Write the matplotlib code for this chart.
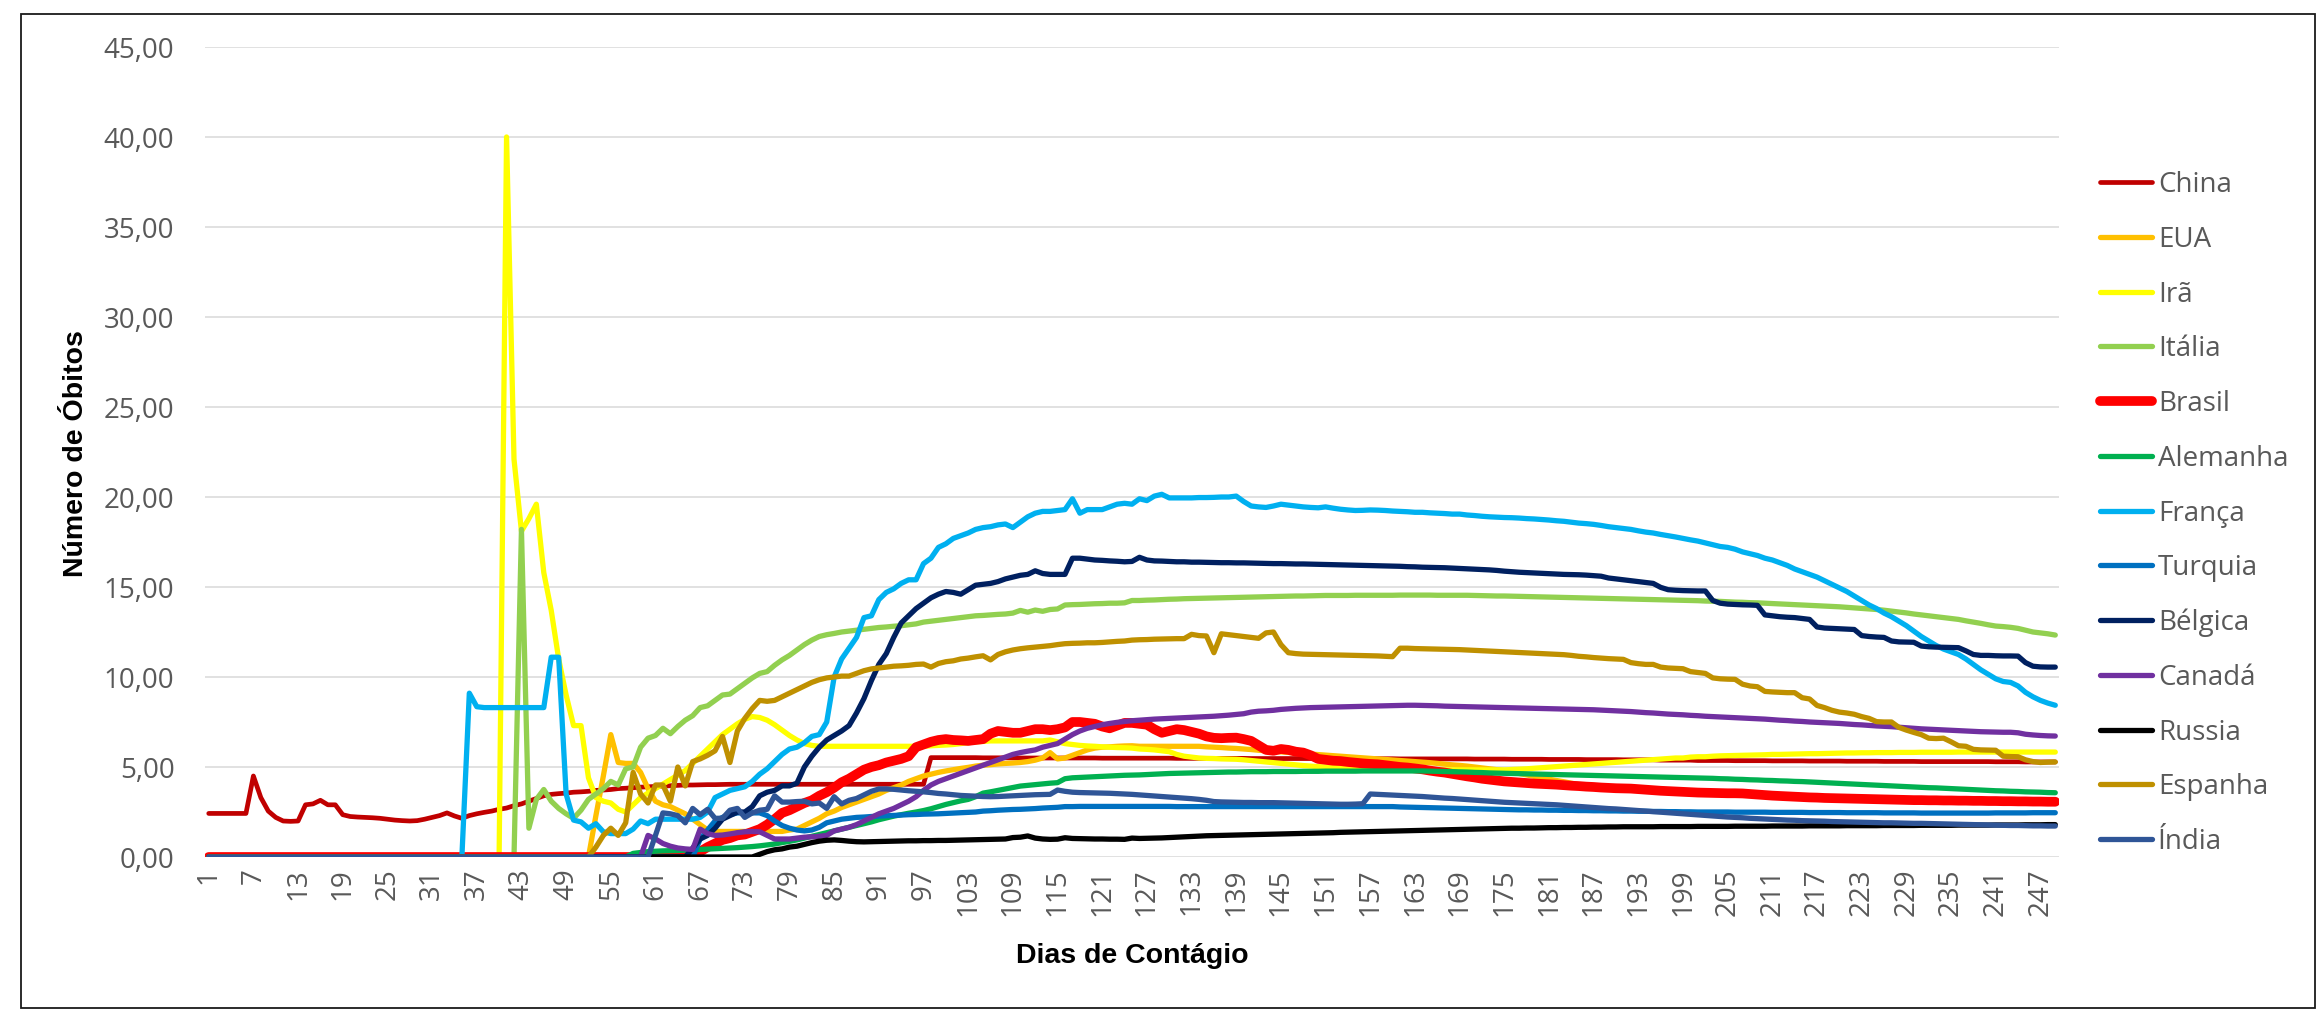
import numpy as np
import matplotlib
matplotlib.use('Agg')
import matplotlib.pyplot as plt
from matplotlib.lines import Line2D
from matplotlib.patches import Rectangle
from matplotlib.ticker import FuncFormatter, MultipleLocator

plt.rcParams['font.family'] = ['Open Sans', 'DejaVu Sans']

# --> Dias de contagio 1..249
days = list(range(1, 250))

china = ([2.42] * 6 + [4.5, 3.3, 2.55, 2.2]
         + [2.0, 1.98, 2.0, 2.9, 2.95, 3.15, 2.9, 2.9, 2.35, 2.25]
         + [2.22, 2.2, 2.18, 2.15, 2.1, 2.05, 2.02, 2.0, 2.02, 2.1]
         + [2.2, 2.3, 2.45, 2.28, 2.15, 2.3, 2.4, 2.48, 2.55, 2.65]
         + [2.72, 2.85, 2.95, 3.1, 3.25, 3.4, 3.48, 3.52, 3.55, 3.6]
         + [3.62, 3.65, 3.7, 3.72, 3.75, 3.8, 3.82, 3.85, 3.88, 3.9]
         + [3.92, 3.94, 3.96, 3.98, 4.0, 4.0, 4.01, 4.02, 4.02, 4.03]
         + [4.04] * 27
         + [5.52] * 7 + [5.51] * 4 + [5.5] * 12
         + [5.49] * 10 + [5.48] * 10 + [5.47] * 10 + [5.46] * 10 + [5.45] * 10
         + [5.44] * 5 + [5.43] * 5 + [5.42] * 5 + [5.41] * 5 + [5.4] * 5 + [5.38] * 5
         + [5.36] * 5 + [5.35] * 5 + [5.34] * 5 + [5.33] * 5 + [5.32] * 5 + [5.31] * 5
         + [5.3] * 10 + [5.29] * 4 + [5.28] * 5)

eua = ([0.0] * 52
       + [2.3, 4.5, 6.8, 5.25, 5.2, 5.2, 4.7, 3.8]
       + [3.1, 2.9, 2.8, 2.6, 2.4, 2.1, 1.8, 1.5, 1.42, 1.42]
       + [1.42] * 8 + [1.5, 1.55]
       + [1.75, 1.95, 2.15, 2.4, 2.55, 2.75, 2.9, 3.05, 3.2, 3.35]
       + [3.5, 3.7, 3.85, 4.0, 4.2, 4.35, 4.5, 4.6, 4.7, 4.78]
       + [4.85, 4.92, 4.98, 5.05, 5.1, 5.13, 5.17, 5.2, 5.22, 5.25]
       + [5.3, 5.38, 5.5, 5.8, 5.45, 5.5, 5.65, 5.8, 5.95, 6.05]
       + [6.1, 6.12, 6.15, 6.17, 6.18] + [6.15] * 9
       + [6.12, 6.1, 6.08, 6.05, 6.03, 6.0, 5.97, 5.93, 5.9, 5.87]
       + [5.84, 5.81, 5.78, 5.75, 5.72, 5.69, 5.66, 5.63, 5.6, 5.57]
       + [5.54, 5.51, 5.48, 5.45, 5.42, 5.39, 5.36, 5.33, 5.3, 5.27]
       + [5.24, 5.2, 5.16, 5.12, 5.09]
       + [5.05, 5.0, 4.95, 4.9, 4.85, 4.8, 4.72, 4.64, 4.56, 4.48]
       + [4.4, 4.32, 4.25, 4.18, 4.1, 4.02, 3.96, 3.92, 3.88, 3.85]
       + [3.82, 3.8, 3.78, 3.76, 3.74, 3.71, 3.68, 3.66, 3.64, 3.62]
       + [3.6, 3.58, 3.57, 3.56, 3.55, 3.54, 3.53, 3.52, 3.5, 3.47]
       + [3.44, 3.41, 3.39, 3.37, 3.35, 3.33, 3.31, 3.3, 3.28, 3.27]
       + [3.26, 3.25, 3.24, 3.23, 3.22, 3.21, 3.2, 3.19, 3.18, 3.17]
       + [3.16, 3.15, 3.15, 3.14, 3.14, 3.13, 3.13, 3.12, 3.12, 3.11]
       + [3.11, 3.1, 3.1, 3.09, 3.09, 3.08, 3.08, 3.07, 3.07, 3.06])

ira = ([0.0] * 40
       + [40.0, 22.1, 18.1, 18.8, 19.6, 15.8, 13.7, 11.0, 9.0, 7.3]
       + [7.3, 4.4, 3.3, 3.1, 3.0, 2.65, 2.5, 2.9, 3.3, 3.55]
       + [3.8, 4.05, 4.3, 4.55, 4.8, 5.2, 5.6, 6.0, 6.4, 6.8]
       + [7.1, 7.4, 7.65, 7.8, 7.75, 7.6, 7.35, 7.05, 6.75, 6.5]
       + [6.3, 6.2, 6.15] + [6.15] * 14 + [6.18, 6.2, 6.22]
       + [6.25, 6.3, 6.35, 6.4, 6.42] + [6.45] * 8
       + [6.5, 6.4, 6.3, 6.25, 6.2, 6.17, 6.15]
       + [6.12, 6.1, 6.08, 6.07, 6.05, 6.0, 5.98, 5.95, 5.9, 5.85]
       + [5.7, 5.6, 5.55, 5.5, 5.48, 5.47, 5.45, 5.44, 5.43, 5.4]
       + [5.36, 5.32, 5.28, 5.24, 5.2, 5.16, 5.12, 5.08, 5.05, 5.02]
       + [5.0, 4.98, 4.96, 4.94, 4.92, 4.9, 4.89, 4.87, 4.86, 4.85]
       + [4.84] * 15
       + [4.86, 4.88, 4.9, 4.93, 4.96]
       + [4.99, 5.02, 5.05, 5.08, 5.11, 5.14, 5.17, 5.2, 5.23, 5.26]
       + [5.29, 5.32, 5.35, 5.38, 5.41, 5.44, 5.47, 5.5, 5.5, 5.55]
       + [5.57, 5.57, 5.6, 5.62, 5.63, 5.64, 5.65, 5.66, 5.67, 5.68]
       + [5.7, 5.7, 5.71, 5.72, 5.73, 5.74, 5.74, 5.75, 5.76, 5.77]
       + [5.78, 5.78, 5.79, 5.79, 5.8, 5.8, 5.8, 5.81, 5.81, 5.81]
       + [5.82] * 5 + [5.83] * 14)

italia = ([0.0] * 42
          + [18.2, 1.6, 3.2, 3.75, 3.1, 2.7, 2.4, 2.15]
          + [2.6, 3.2, 3.5, 3.8, 4.2, 4.0, 4.9, 5.0, 6.1, 6.6]
          + [6.75, 7.15, 6.85, 7.25, 7.6, 7.85, 8.3, 8.4, 8.7, 9.0]
          + [9.05, 9.35, 9.65, 9.95, 10.2, 10.3, 10.65, 10.95, 11.2, 11.5]
          + [11.8, 12.05, 12.25, 12.35, 12.42, 12.5, 12.55, 12.6, 12.65, 12.7]
          + [12.75, 12.78, 12.82, 12.85, 12.9, 12.95, 13.05, 13.1, 13.15, 13.2]
          + [13.25, 13.3, 13.35, 13.4, 13.42, 13.45, 13.48, 13.5, 13.55, 13.7]
          + [13.6, 13.72, 13.65, 13.75, 13.78, 14.0, 14.02, 14.03, 14.05, 14.07]
          + [14.08, 14.1, 14.1, 14.12, 14.25, 14.25, 14.27, 14.28, 14.3, 14.32]
          + [14.33, 14.35, 14.36, 14.37, 14.38, 14.39, 14.4, 14.41, 14.42, 14.43]
          + [14.44, 14.45, 14.46, 14.47, 14.48, 14.49, 14.5, 14.5, 14.51, 14.52]
          + [14.53] * 4 + [14.54] * 6
          + [14.55] * 5 + [14.54] * 5
          + [14.53, 14.52, 14.51, 14.5, 14.5, 14.49, 14.48, 14.47, 14.46, 14.45]
          + [14.44, 14.43, 14.42, 14.41, 14.4, 14.39, 14.38, 14.37, 14.36, 14.35]
          + [14.34, 14.33, 14.32, 14.31, 14.3, 14.29, 14.28, 14.27, 14.26, 14.25]
          + [14.24, 14.22, 14.21, 14.2, 14.18, 14.16, 14.15, 14.13, 14.12, 14.1]
          + [14.08, 14.06, 14.04, 14.02, 14.0, 13.98, 13.96, 13.94, 13.92, 13.9]
          + [13.87, 13.84, 13.81, 13.78, 13.75, 13.71, 13.66, 13.61, 13.56, 13.5]
          + [13.45, 13.4, 13.35, 13.3, 13.25, 13.2, 13.12, 13.05, 12.98, 12.9]
          + [12.83, 12.8, 12.76, 12.7, 12.6, 12.5, 12.45, 12.4, 12.33])

brasil = ([0.0] * 66
          + [0.3, 0.55, 0.75, 0.95]
          + [1.05, 1.2, 1.25, 1.4, 1.55, 1.8, 2.1, 2.45, 2.6, 2.8]
          + [3.0, 3.15, 3.4, 3.6, 3.85, 4.15, 4.35, 4.6, 4.85, 5.0]
          + [5.1, 5.25, 5.35, 5.45, 5.6, 6.1, 6.25, 6.4, 6.5, 6.55]
          + [6.5, 6.48, 6.45, 6.5, 6.55, 6.85, 7.0, 6.95, 6.9, 6.9]
          + [7.0, 7.1, 7.1, 7.05, 7.1, 7.2, 7.5, 7.5, 7.45, 7.4]
          + [7.25, 7.15, 7.3, 7.45, 7.45, 7.4, 7.35, 7.1, 6.9, 7.0]
          + [7.1, 7.05, 6.95, 6.85, 6.7, 6.62, 6.6, 6.62, 6.63, 6.55]
          + [6.45, 6.2, 5.95, 5.9, 6.0, 5.95, 5.85, 5.8, 5.65, 5.45]
          + [5.4, 5.35, 5.33, 5.28, 5.24, 5.2, 5.17, 5.15, 5.1, 5.05]
          + [5.0, 4.97, 4.92, 4.87, 4.8, 4.74, 4.69, 4.62, 4.55, 4.48]
          + [4.42, 4.35, 4.3, 4.25, 4.2, 4.17, 4.14, 4.11, 4.08, 4.06]
          + [4.04, 4.02, 3.99, 3.96, 3.94, 3.91, 3.89, 3.86, 3.84, 3.82]
          + [3.81, 3.8, 3.77, 3.74, 3.71, 3.68, 3.66, 3.64, 3.62, 3.6]
          + [3.58, 3.57, 3.56, 3.55, 3.54, 3.54, 3.53, 3.5, 3.47, 3.44]
          + [3.41, 3.39, 3.37, 3.35, 3.33, 3.31, 3.3, 3.28, 3.27, 3.26]
          + [3.25, 3.24, 3.23, 3.22, 3.21, 3.2, 3.19, 3.18, 3.17, 3.16]
          + [3.16, 3.15, 3.15, 3.14, 3.14, 3.13, 3.13, 3.12, 3.12, 3.11]
          + [3.11, 3.1, 3.1, 3.09, 3.09, 3.08, 3.08, 3.07, 3.07])

alemanha = ([0.0] * 57
            + [0.2, 0.25, 0.3]
            + [0.32, 0.34, 0.35, 0.36, 0.38, 0.4, 0.42, 0.44, 0.46, 0.48]
            + [0.5, 0.52, 0.55, 0.58, 0.62, 0.67, 0.72, 0.8, 0.87, 0.95]
            + [1.05, 1.15, 1.25, 1.35, 1.45, 1.55, 1.65, 1.75, 1.85, 1.95]
            + [2.07, 2.17, 2.27, 2.35, 2.43, 2.5, 2.58, 2.68, 2.8, 2.92]
            + [3.02, 3.12, 3.2, 3.35, 3.55, 3.62, 3.7, 3.78, 3.86, 3.94]
            + [3.98, 4.02, 4.06, 4.1, 4.13, 4.35, 4.4, 4.42, 4.44, 4.46]
            + [4.48, 4.5, 4.52, 4.54, 4.55, 4.56, 4.58, 4.6, 4.62, 4.64]
            + [4.65, 4.66, 4.67, 4.68, 4.69, 4.7, 4.71, 4.72, 4.72, 4.73]
            + [4.74] * 3 + [4.75] * 4 + [4.76] * 3
            + [4.77] * 5 + [4.78] * 5
            + [4.78] * 4 + [4.77, 4.76, 4.75, 4.74, 4.73, 4.72]
            + [4.7, 4.69, 4.67, 4.66, 4.65, 4.64, 4.63, 4.62, 4.61, 4.6]
            + [4.59, 4.58, 4.57, 4.56, 4.55, 4.54, 4.53, 4.52, 4.51, 4.5]
            + [4.49, 4.48, 4.47, 4.46, 4.45, 4.44, 4.43, 4.42, 4.41, 4.4]
            + [4.39, 4.38, 4.37, 4.35, 4.34, 4.32, 4.31, 4.29, 4.28, 4.26]
            + [4.25, 4.23, 4.22, 4.2, 4.19, 4.17, 4.15, 4.13, 4.11, 4.09]
            + [4.07, 4.05, 4.03, 4.01, 3.99, 3.97, 3.95, 3.93, 3.91, 3.89]
            + [3.87, 3.85, 3.84, 3.82, 3.8, 3.78, 3.76, 3.74, 3.72, 3.7]
            + [3.68, 3.67, 3.65, 3.64, 3.62, 3.61, 3.6, 3.58, 3.57])

franca = ([0.0] * 35
          + [9.1, 8.35, 8.3, 8.3, 8.3]
          + [8.3] * 6 + [11.1, 11.1, 3.5, 2.05]
          + [1.95, 1.6, 1.85, 1.4, 1.3, 1.3, 1.3, 1.55, 2.0, 1.85]
          + [2.1] * 6 + [2.2, 2.5, 3.3, 3.5]
          + [3.7, 3.8, 3.9, 4.2, 4.6, 4.9, 5.3, 5.7, 6.0, 6.1]
          + [6.35, 6.7, 6.8, 7.5, 10.0, 11.0, 11.6, 12.2, 13.3, 13.4]
          + [14.3, 14.7, 14.9, 15.2, 15.4, 15.4, 16.3, 16.6, 17.2, 17.4]
          + [17.7, 17.85, 18.0, 18.2, 18.3, 18.35, 18.45, 18.5, 18.3, 18.6]
          + [18.9, 19.1, 19.2, 19.2, 19.25, 19.3, 19.9, 19.1, 19.3, 19.3]
          + [19.3, 19.45, 19.6, 19.65, 19.6, 19.9, 19.8, 20.05, 20.15, 19.95]
          + [19.95, 19.95, 19.95, 19.97, 19.97, 19.98, 20.0, 20.0, 20.05, 19.75]
          + [19.5, 19.45, 19.42, 19.5, 19.6, 19.55, 19.5, 19.45, 19.42, 19.4]
          + [19.45, 19.38, 19.32, 19.28, 19.25, 19.26, 19.28, 19.27, 19.25, 19.22]
          + [19.2, 19.18, 19.15, 19.15, 19.12, 19.1, 19.08, 19.05, 19.05, 19.0]
          + [18.97, 18.93, 18.9, 18.88, 18.86, 18.85, 18.83, 18.8, 18.78, 18.75]
          + [18.72, 18.68, 18.65, 18.6, 18.55, 18.52, 18.48, 18.42, 18.35, 18.3]
          + [18.25, 18.2, 18.12, 18.05, 18.0, 17.92, 17.85, 17.78, 17.7, 17.62]
          + [17.55, 17.45, 17.35, 17.25, 17.2, 17.1, 16.95, 16.85, 16.75, 16.6]
          + [16.5, 16.35, 16.2, 16.0, 15.85, 15.7, 15.55, 15.35, 15.15, 14.95]
          + [14.75, 14.5, 14.25, 14.0, 13.8, 13.55, 13.35, 13.1, 12.85, 12.55]
          + [12.25, 12.0, 11.75, 11.55, 11.4, 11.25, 11.0, 10.7, 10.4, 10.15]
          + [9.9, 9.75, 9.7, 9.5, 9.15, 8.9, 8.7, 8.55, 8.43])

turquia = ([0.0] * 66
           + [1.0, 1.5, 2.0, 2.2]
           + [2.35, 2.45, 2.45, 2.45, 2.45, 2.3, 2.0, 1.75, 1.6, 1.5]
           + [1.45, 1.5, 1.65, 1.9, 2.0, 2.1, 2.15, 2.2, 2.22, 2.25]
           + [2.27, 2.29, 2.31, 2.33, 2.35, 2.36, 2.38, 2.39, 2.4, 2.42]
           + [2.44, 2.46, 2.48, 2.5, 2.55, 2.57, 2.6, 2.62, 2.64, 2.65]
           + [2.67, 2.69, 2.72, 2.74, 2.76, 2.8, 2.8, 2.81, 2.81, 2.81]
           + [2.81] * 10
           + [2.8] * 30
           + [2.78, 2.77, 2.76, 2.75, 2.74, 2.73, 2.72, 2.71, 2.7, 2.69]
           + [2.68, 2.67, 2.66, 2.65, 2.64, 2.63, 2.62, 2.62, 2.61, 2.61]
           + [2.6, 2.6, 2.59, 2.59, 2.58, 2.58, 2.57, 2.57, 2.56, 2.56]
           + [2.55, 2.55, 2.54, 2.54, 2.53, 2.53, 2.52, 2.52, 2.51, 2.51]
           + [2.5] * 5 + [2.49] * 5 + [2.48] * 5 + [2.47] * 5 + [2.46] * 5 + [2.45] * 5
           + [2.44] * 10 + [2.45] * 5 + [2.46] * 4)

belgica = ([0.0] * 65
           + [0.5, 1.0, 1.2, 1.6, 2.1]
           + [2.3, 2.5, 2.5, 2.8, 3.4, 3.6, 3.7, 3.95, 3.95, 4.1]
           + [5.0, 5.6, 6.1, 6.5, 6.75, 7.0, 7.3, 8.0, 8.8, 9.8]
           + [10.7, 11.3, 12.2, 13.0, 13.4, 13.8, 14.1, 14.4, 14.6, 14.75]
           + [14.7, 14.6, 14.85, 15.1, 15.15, 15.2, 15.3, 15.45, 15.55, 15.65]
           + [15.7, 15.9, 15.75, 15.7, 15.7, 15.7, 16.6, 16.6, 16.55, 16.5]
           + [16.48, 16.45, 16.43, 16.4, 16.42, 16.65, 16.5, 16.45, 16.44, 16.42]
           + [16.4, 16.4, 16.38, 16.38, 16.37, 16.36, 16.35, 16.35, 16.34, 16.34]
           + [16.33, 16.32, 16.31, 16.3, 16.3, 16.29, 16.28, 16.28, 16.27, 16.26]
           + [16.25, 16.24, 16.23, 16.22, 16.21, 16.2, 16.19, 16.18, 16.17, 16.16]
           + [16.15, 16.13, 16.12, 16.1, 16.09, 16.08, 16.07, 16.05, 16.03, 16.01]
           + [15.99, 15.97, 15.95, 15.92, 15.88, 15.85, 15.82, 15.8, 15.78, 15.76]
           + [15.74, 15.72, 15.7, 15.69, 15.68, 15.66, 15.63, 15.6, 15.5, 15.45]
           + [15.4, 15.35, 15.3, 15.25, 15.2, 14.98, 14.85, 14.82, 14.8, 14.79]
           + [14.78, 14.78, 14.25, 14.1, 14.05, 14.03, 14.01, 14.0, 13.98, 13.45]
           + [13.4, 13.35, 13.32, 13.3, 13.25, 13.2, 12.78, 12.72, 12.7, 12.68]
           + [12.66, 12.64, 12.3, 12.25, 12.22, 12.2, 12.0, 11.95, 11.94, 11.93]
           + [11.72, 11.68, 11.66, 11.65, 11.64, 11.63, 11.45, 11.25, 11.2, 11.2]
           + [11.18, 11.17, 11.17, 11.16, 10.8, 10.6, 10.56, 10.55, 10.55])

canada = ([0.0] * 59
          + [1.2]
          + [1.0, 0.75, 0.6, 0.5, 0.45, 0.42, 1.55, 1.3, 1.2, 1.22]
          + [1.28, 1.35, 1.4, 1.42, 1.4, 1.2, 1.0, 1.0, 1.0, 1.05]
          + [1.1, 1.12, 1.15, 1.2, 1.45, 1.55, 1.65, 1.8, 2.0, 2.2]
          + [2.4, 2.55, 2.7, 2.9, 3.1, 3.35, 3.7, 4.0, 4.2, 4.35]
          + [4.5, 4.65, 4.8, 4.95, 5.1, 5.25, 5.4, 5.55, 5.7, 5.8]
          + [5.88, 5.95, 6.1, 6.2, 6.3, 6.55, 6.8, 7.0, 7.15, 7.25]
          + [7.35, 7.42, 7.48, 7.53, 7.57, 7.6, 7.63, 7.66, 7.68, 7.7]
          + [7.72, 7.74, 7.76, 7.78, 7.8, 7.82, 7.85, 7.88, 7.92, 7.96]
          + [8.05, 8.1, 8.12, 8.15, 8.2, 8.23, 8.26, 8.28, 8.3, 8.31]
          + [8.32, 8.33, 8.34, 8.35, 8.36, 8.37, 8.38, 8.39, 8.4, 8.41]
          + [8.42, 8.43, 8.43, 8.42, 8.41, 8.4, 8.38, 8.37, 8.36, 8.35]
          + [8.34, 8.33, 8.32, 8.31, 8.3, 8.29, 8.28, 8.27, 8.26, 8.25]
          + [8.24, 8.23, 8.22, 8.21, 8.2, 8.19, 8.18, 8.16, 8.14, 8.12]
          + [8.1, 8.08, 8.05, 8.02, 8.0, 7.97, 7.94, 7.92, 7.9, 7.87]
          + [7.85, 7.82, 7.8, 7.78, 7.76, 7.74, 7.72, 7.7, 7.68, 7.66]
          + [7.63, 7.6, 7.58, 7.55, 7.53, 7.5, 7.48, 7.46, 7.44, 7.42]
          + [7.39, 7.36, 7.34, 7.31, 7.28, 7.26, 7.24, 7.21, 7.18, 7.15]
          + [7.12, 7.1, 7.08, 7.06, 7.04, 7.02, 7.0, 6.98, 6.96, 6.95]
          + [6.94, 6.93, 6.93, 6.9, 6.82, 6.78, 6.75, 6.73, 6.72])

russia = ([0.0] * 74
          + [0.15, 0.3, 0.4, 0.45, 0.55, 0.6]
          + [0.7, 0.8, 0.88, 0.93, 0.95, 0.92, 0.88, 0.85, 0.84, 0.85]
          + [0.86, 0.87, 0.88, 0.89, 0.9, 0.9, 0.91, 0.91, 0.92, 0.92]
          + [0.93, 0.94, 0.95, 0.96, 0.97, 0.98, 0.99, 1.0, 1.08, 1.1]
          + [1.17, 1.05, 1.0, 0.98, 0.99, 1.07, 1.03, 1.02, 1.01, 1.0]
          + [1.0, 0.99, 0.99, 0.98, 1.05, 1.03, 1.04, 1.05, 1.06, 1.08]
          + [1.1, 1.12, 1.14, 1.16, 1.18, 1.19, 1.2, 1.21, 1.22, 1.23]
          + [1.24, 1.25, 1.26, 1.27, 1.28, 1.29, 1.3, 1.31, 1.32, 1.33]
          + [1.34, 1.35, 1.37, 1.38, 1.39, 1.4, 1.41, 1.42, 1.43, 1.44]
          + [1.45, 1.46, 1.47, 1.48, 1.49, 1.5, 1.51, 1.52, 1.53, 1.54]
          + [1.55, 1.56, 1.57, 1.58, 1.59, 1.6, 1.6, 1.61, 1.61, 1.62]
          + [1.63, 1.63, 1.64, 1.64, 1.65, 1.65, 1.66, 1.66, 1.67, 1.67]
          + [1.68] * 5 + [1.69] * 5 + [1.7] * 5 + [1.71] * 5 + [1.72] * 5 + [1.73] * 5
          + [1.74] * 5 + [1.75] * 5 + [1.76] * 5 + [1.77] * 5
          + [1.78] * 4 + [1.79] * 3 + [1.8] * 2)

espanha = ([0.0] * 52
           + [0.55, 1.2, 1.6, 1.2, 1.9, 4.7, 3.5, 3.0]
           + [4.0, 4.0, 3.1, 5.0, 3.95, 5.3, 5.45, 5.65, 5.9, 6.7]
           + [5.25, 7.0, 7.7, 8.25, 8.7, 8.65, 8.7, 8.9, 9.1, 9.3]
           + [9.5, 9.7, 9.85, 9.95, 10.0, 10.05, 10.05, 10.2, 10.35, 10.45]
           + [10.5, 10.55, 10.6, 10.62, 10.65, 10.7, 10.72, 10.55, 10.75, 10.85]
           + [10.9, 11.0, 11.05, 11.12, 11.18, 10.95, 11.25, 11.4, 11.5, 11.57]
           + [11.62, 11.66, 11.7, 11.74, 11.8, 11.85, 11.87, 11.88, 11.9, 11.9]
           + [11.92, 11.95, 11.98, 12.0, 12.05, 12.07, 12.08, 12.1, 12.11, 12.12]
           + [12.13, 12.13, 12.37, 12.3, 12.28, 11.35, 12.4, 12.35, 12.3, 12.25]
           + [12.2, 12.15, 12.45, 12.5, 11.8, 11.35, 11.3, 11.27, 11.26, 11.25]
           + [11.24, 11.23, 11.22, 11.21, 11.2, 11.19, 11.18, 11.17, 11.15, 11.13]
           + [11.6, 11.6, 11.58, 11.57, 11.56, 11.55, 11.54, 11.53, 11.52, 11.5]
           + [11.48, 11.46, 11.44, 11.42, 11.4, 11.38, 11.36, 11.34, 11.32, 11.3]
           + [11.28, 11.26, 11.24, 11.2, 11.15, 11.12, 11.08, 11.05, 11.02, 11.0]
           + [10.98, 10.8, 10.74, 10.7, 10.7, 10.55, 10.5, 10.48, 10.46, 10.3]
           + [10.25, 10.2, 9.95, 9.9, 9.88, 9.87, 9.6, 9.5, 9.46, 9.2]
           + [9.17, 9.15, 9.13, 9.13, 8.85, 8.78, 8.42, 8.3, 8.15, 8.05]
           + [8.0, 7.93, 7.8, 7.7, 7.52, 7.5, 7.5, 7.2, 7.05, 6.92]
           + [6.8, 6.6, 6.58, 6.6, 6.4, 6.18, 6.15, 5.98, 5.95, 5.94]
           + [5.93, 5.6, 5.58, 5.57, 5.4, 5.3, 5.25, 5.27, 5.28])

india = ([0.0] * 60
         + [1.2, 2.45, 2.4, 2.3, 1.9, 2.7, 2.35, 2.65, 2.15, 2.15]
         + [2.6, 2.7, 2.2, 2.45, 2.6, 2.65, 3.4, 3.05, 3.05, 3.08]
         + [3.1, 2.95, 3.0, 2.7, 3.35, 2.95, 3.15, 3.25, 3.45, 3.65]
         + [3.78, 3.78, 3.76, 3.72, 3.68, 3.65, 3.62, 3.58, 3.53, 3.5]
         + [3.46, 3.42, 3.4, 3.38, 3.36, 3.35, 3.36, 3.38, 3.4, 3.42]
         + [3.44, 3.46, 3.47, 3.48, 3.72, 3.65, 3.6, 3.58, 3.57, 3.56]
         + [3.55, 3.54, 3.52, 3.5, 3.48, 3.45, 3.42, 3.39, 3.36, 3.33]
         + [3.3, 3.27, 3.24, 3.2, 3.15, 3.08, 3.06, 3.05, 3.04, 3.03]
         + [3.03, 3.02, 3.02, 3.02, 3.01, 3.0, 2.99, 2.98, 2.97, 2.96]
         + [2.95, 2.94, 2.93, 2.93, 2.94, 2.96, 3.5, 3.48, 3.46, 3.44]
         + [3.42, 3.4, 3.38, 3.36, 3.33, 3.3, 3.27, 3.25, 3.22, 3.19]
         + [3.16, 3.13, 3.1, 3.07, 3.04, 3.02, 3.0, 2.98, 2.96, 2.94]
         + [2.92, 2.9, 2.87, 2.84, 2.81, 2.78, 2.75, 2.72, 2.69, 2.67]
         + [2.64, 2.61, 2.58, 2.55, 2.52, 2.49, 2.46, 2.43, 2.4, 2.37]
         + [2.34, 2.31, 2.28, 2.25, 2.22, 2.2, 2.18, 2.15, 2.13, 2.11]
         + [2.09, 2.07, 2.05, 2.04, 2.02, 2.01, 2.0, 1.99, 1.97, 1.96]
         + [1.95, 1.94, 1.93, 1.92, 1.91, 1.9, 1.9, 1.89, 1.88, 1.87]
         + [1.87, 1.86, 1.85, 1.84, 1.83, 1.82, 1.81, 1.8, 1.79, 1.78]
         + [1.77, 1.76, 1.75, 1.75, 1.74, 1.73, 1.73, 1.72, 1.72])

names = ['China', 'EUA', 'Irã', 'Itália', 'Brasil', 'Alemanha', 'França',
         'Turquia', 'Bélgica', 'Canadá', 'Russia', 'Espanha', 'Índia']
values = [china, eua, ira, italia, brasil, alemanha, franca,
          turquia, belgica, canada, russia, espanha, india]
colors = ['#C00000', '#FFC000', '#FFFF00', '#92D050', '#FF0000', '#00B050', '#00B0F0',
          '#0070C0', '#002060', '#7030A0', '#000000', '#BF9000', '#2F5597']
widths = [3.4, 3.8, 3.8, 3.8, 7.0, 3.8, 3.8, 3.8, 3.8, 3.8, 3.8, 3.8, 3.8]

lengths = [len(v) for v in values]
assert all(n == len(days) for n in lengths), lengths

W, H = 2324, 1016
fig = plt.figure(figsize=(W / 100, H / 100), dpi=100)
ax = fig.add_axes([205 / W, 1 - 857 / H, (2059 - 205) / W, 810 / H])

for name, vals, color, lw in zip(names, values, colors, widths):
    ax.plot(days, vals, color=color, lw=lw, label=name,
            solid_joinstyle='round', solid_capstyle='round')

ax.set_xlim(0.5, 249.5)
ax.set_ylim(0, 45)
ax.yaxis.set_major_locator(MultipleLocator(5))
ax.yaxis.set_major_formatter(FuncFormatter(lambda v, p: f'{v:.2f}'.replace('.', ',')))
ax.set_xticks(days[::6])
ax.set_xticklabels([str(d) for d in days[::6]], rotation=90)
ax.tick_params(axis='both', length=0, labelsize=20, labelcolor='#595959')
ax.tick_params(axis='y', pad=22)
ax.tick_params(axis='x', pad=8)
ax.grid(axis='y', color='#D9D9D9', lw=1.1)
ax.set_axisbelow(True)
for s in ax.spines.values():
    s.set_visible(False)

title_font = dict(family=['Liberation Sans Narrow', 'Liberation Sans'], weight='bold',
                  size=20.5, color='black')
ax.set_xlabel('Dias de Contágio', **title_font)
ax.set_ylabel('Número de Óbitos', **title_font)
ax.xaxis.set_label_coords(0.5, (857 - 956) / 810)
ax.xaxis.label.set_va('center')
ax.yaxis.set_label_coords((76 - 205) / 1854, (857 - 454) / 810)
ax.yaxis.label.set_va('center')

# --> Legend (drawn by hand to match the spacing)
for i, (name, color, lw) in enumerate(zip(names, colors, widths)):
    yc = 182 + i * 54.75
    fig.add_artist(Line2D([2100 / W, 2152 / W], [1 - yc / H, 1 - yc / H],
                          color=color, lw=lw, solid_capstyle='round'))
    fig.text(2158 / W, 1 - (yc + 10) / H, name, fontsize=20, color='#595959',
             ha='left', va='baseline')

# --> Outer frame
fig.add_artist(Rectangle((21 / W, 8 / H), (2315 - 21) / W, (1008 - 14) / H,
                         transform=fig.transFigure, fill=False, ec='#1a1a1a', lw=1.3))

fig.savefig('out.png', dpi=100)
